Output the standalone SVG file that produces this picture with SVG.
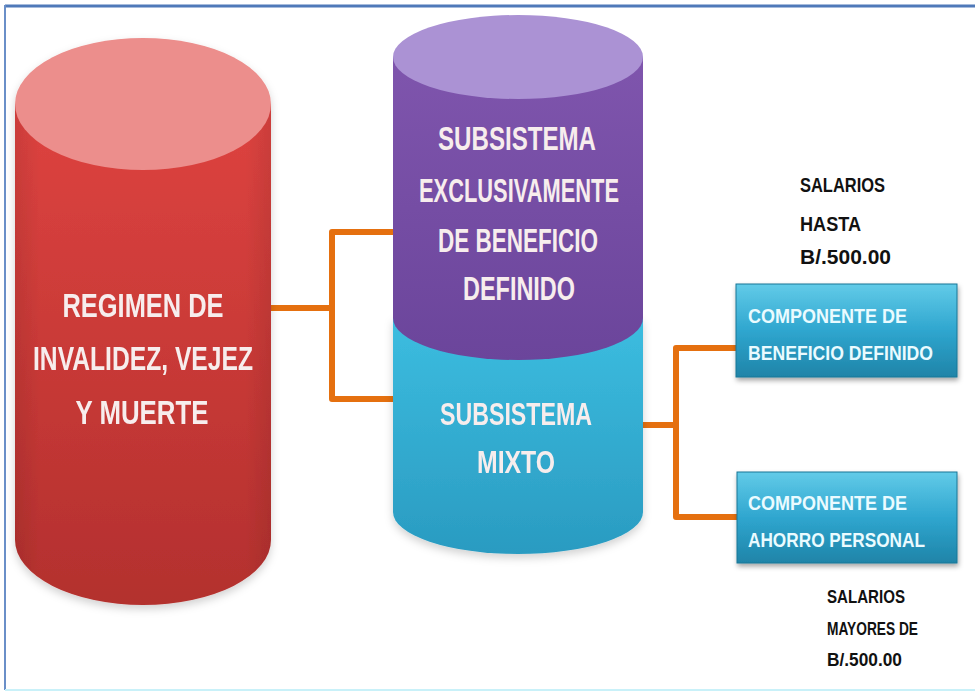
<svg xmlns="http://www.w3.org/2000/svg" width="975" height="692" viewBox="0 0 975 692">
<defs>
<linearGradient id="gRed" x1="0" y1="0" x2="0" y2="1">
<stop offset="0" stop-color="#de4340"/><stop offset="1" stop-color="#b3302e"/>
</linearGradient>
<linearGradient id="gRedSide" x1="0" y1="0" x2="1" y2="0">
<stop offset="0" stop-color="#000" stop-opacity="0.08"/><stop offset="0.1" stop-color="#000" stop-opacity="0"/><stop offset="0.9" stop-color="#000" stop-opacity="0"/><stop offset="1" stop-color="#000" stop-opacity="0.08"/>
</linearGradient>
<linearGradient id="gPurple" x1="0" y1="0" x2="0" y2="1">
<stop offset="0" stop-color="#7f55ad"/><stop offset="1" stop-color="#6b459b"/>
</linearGradient>
<linearGradient id="gCyan" x1="0" y1="0" x2="0" y2="1">
<stop offset="0" stop-color="#3cbde0"/><stop offset="1" stop-color="#2a9bc1"/>
</linearGradient>
<linearGradient id="gBox" x1="0" y1="0" x2="0" y2="1">
<stop offset="0" stop-color="#62cbe8"/><stop offset="0.5" stop-color="#2fa6cf"/><stop offset="1" stop-color="#1f84a8"/>
</linearGradient>
<filter id="sh" x="-10%" y="-10%" width="125%" height="130%">
<feDropShadow dx="1" dy="3" stdDeviation="2.5" flood-color="#000" flood-opacity="0.35"/>
</filter>
<filter id="shc" x="-10%" y="-10%" width="125%" height="125%">
<feDropShadow dx="0" dy="4" stdDeviation="4" flood-color="#000" flood-opacity="0.18"/>
</filter>
</defs>
<style>
.cyl{font-family:"Liberation Sans Narrow","Liberation Sans",Arial,sans-serif;font-weight:bold;fill:#f7eded;text-anchor:middle}
.box{font-family:"Liberation Sans Narrow","Liberation Sans",Arial,sans-serif;font-weight:bold;font-size:20px;fill:#eafbff}
.lbl{font-family:"Liberation Sans Narrow","Liberation Sans",Arial,sans-serif;font-weight:bold;fill:#111}
.con{fill:none;stroke:#e5700f;stroke-width:6;stroke-linejoin:round;stroke-linecap:butt}
</style>
<rect width="975" height="692" fill="#fff"/>
<line x1="5" y1="6" x2="975" y2="6" stroke="#4f79b9" stroke-width="3"/>
<line x1="5" y1="5" x2="5" y2="690" stroke="#6a8fc8" stroke-width="2"/>
<line x1="5" y1="690" x2="975" y2="690" stroke="#c9f1f9" stroke-width="2"/>

<g id="connectors">
<path class="con" d="M268,308 H332"/>
<path class="con" d="M393,232 H332 V399 H393"/>
<path class="con" d="M615,425 H676"/>
<path class="con" d="M737,348 H676 V517 H737"/>
</g>

<g id="regimen" filter="url(#shc)">
<path d="M15,104 V540 A128,65 0 0 0 271,540 V104 Z" fill="url(#gRed)"/>
<path d="M15,104 V540 A128,65 0 0 0 271,540 V104 Z" fill="url(#gRedSide)"/>
<ellipse cx="143" cy="104" rx="128" ry="66" fill="#ec8e8c"/>
<text class="cyl" font-size="34" x="143" y="317" textLength="161" lengthAdjust="spacingAndGlyphs">REGIMEN DE</text>
<text class="cyl" font-size="34" x="143" y="370" textLength="220" lengthAdjust="spacingAndGlyphs">INVALIDEZ, VEJEZ</text>
<text class="cyl" font-size="34" x="142" y="424" textLength="133" lengthAdjust="spacingAndGlyphs">Y MUERTE</text>
</g>

<g id="mixto" filter="url(#shc)">
<path d="M393,318 V512 A125,42 0 0 0 643,512 V318 Z" fill="url(#gCyan)"/>
<text class="cyl" font-size="32" x="516" y="425" textLength="152" lengthAdjust="spacingAndGlyphs">SUBSISTEMA</text>
<text class="cyl" font-size="32" x="516" y="473" textLength="78" lengthAdjust="spacingAndGlyphs">MIXTO</text>
</g>

<g id="exclusivo">
<path d="M393,57 V318 A125,42 0 0 0 643,318 V57 Z" fill="url(#gPurple)"/>
<ellipse cx="518" cy="57" rx="125" ry="42" fill="#ab92d4"/>
<text class="cyl" font-size="34" x="517" y="150" textLength="158" lengthAdjust="spacingAndGlyphs">SUBSISTEMA</text>
<text class="cyl" font-size="34" x="519" y="202" textLength="200" lengthAdjust="spacingAndGlyphs">EXCLUSIVAMENTE</text>
<text class="cyl" font-size="34" x="518" y="252" textLength="160" lengthAdjust="spacingAndGlyphs">DE BENEFICIO</text>
<text class="cyl" font-size="34" x="519" y="300" textLength="112" lengthAdjust="spacingAndGlyphs">DEFINIDO</text>
</g>

<g id="comp-beneficio">
<rect x="736" y="284" width="221" height="93" fill="url(#gBox)" stroke="#1a7696" stroke-width="1" filter="url(#sh)"/>
<text class="box" x="748" y="323" textLength="159" lengthAdjust="spacingAndGlyphs">COMPONENTE DE</text>
<text class="box" x="748" y="360" textLength="185" lengthAdjust="spacingAndGlyphs">BENEFICIO DEFINIDO</text>
</g>

<g id="comp-ahorro">
<rect x="737" y="472" width="220" height="91" fill="url(#gBox)" stroke="#1a7696" stroke-width="1" filter="url(#sh)"/>
<text class="box" x="748" y="510" textLength="159" lengthAdjust="spacingAndGlyphs">COMPONENTE DE</text>
<text class="box" x="748" y="547" textLength="177" lengthAdjust="spacingAndGlyphs">AHORRO PERSONAL</text>
</g>

<g id="label-hasta">
<text class="lbl" font-size="21" x="800" y="192" textLength="85" lengthAdjust="spacingAndGlyphs">SALARIOS</text>
<text class="lbl" font-size="21" x="800" y="231" textLength="61" lengthAdjust="spacingAndGlyphs">HASTA</text>
<text class="lbl" font-size="21" x="800" y="264" textLength="91" lengthAdjust="spacingAndGlyphs">B/.500.00</text>
</g>

<g id="label-mayores">
<text class="lbl" font-size="19" x="827" y="603" textLength="78" lengthAdjust="spacingAndGlyphs">SALARIOS</text>
<text class="lbl" font-size="19" x="827" y="635" textLength="91" lengthAdjust="spacingAndGlyphs">MAYORES DE</text>
<text class="lbl" font-size="19" x="827" y="666" textLength="75" lengthAdjust="spacingAndGlyphs">B/.500.00</text>
</g>
</svg>
